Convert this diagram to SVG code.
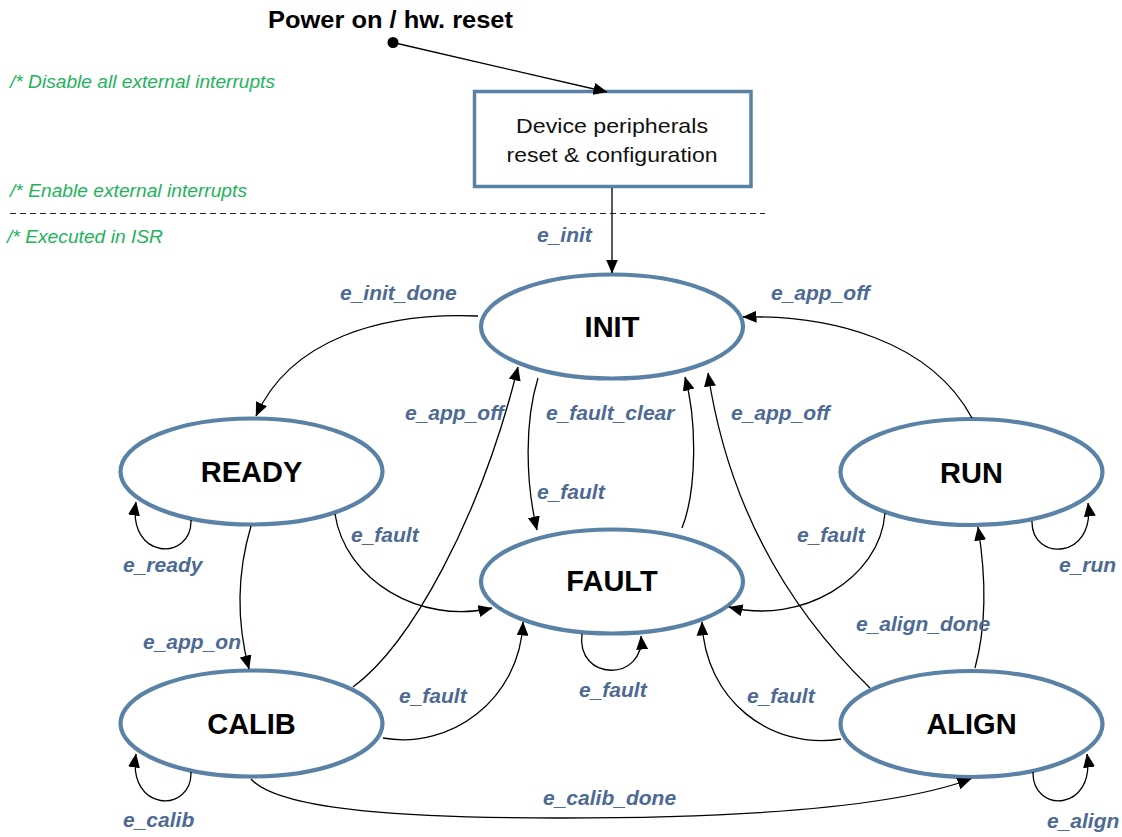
<svg xmlns="http://www.w3.org/2000/svg" width="1122" height="837" viewBox="0 0 1122 837">
  <defs>
    <marker id="arrow" viewBox="0 0 14 12" refX="13.5" refY="6" markerWidth="14" markerHeight="12" markerUnits="userSpaceOnUse" orient="auto">
      <path d="M0,0 L14,6 L0,12 z" fill="#000"/>
    </marker>
    <style>
      .state { fill: #fff; stroke: #5a82a6; stroke-width: 4.2; }
      .box { fill: #fff; stroke: #5a82a6; stroke-width: 3.5; }
      .state-name { font-family: "Liberation Sans", Arial, sans-serif; font-weight: bold; font-size: 29px; fill: #000; text-anchor: middle; }
      .box-text { font-family: "Liberation Sans", Arial, sans-serif; font-size: 21px; fill: #111; text-anchor: middle; }
      .title { font-family: "Liberation Sans", Arial, sans-serif; font-weight: bold; font-size: 23px; fill: #000; }
      .note { font-family: "Liberation Sans", Arial, sans-serif; font-style: italic; font-size: 18px; fill: #22b35a; }
      .evt { font-family: "Liberation Sans", Arial, sans-serif; font-style: italic; font-weight: bold; font-size: 21px; fill: #4d6a94; }
      .edge { fill: none; stroke: #000; stroke-width: 1.3; }
      .arr { marker-end: url(#arrow); }
    </style>
  </defs>

  <rect width="1122" height="837" fill="#fff"/>

  <!-- comments and section divider -->
  <g id="notes">
    <text class="note" x="10" y="88" textLength="265" lengthAdjust="spacingAndGlyphs">/* Disable all external interrupts</text>
    <text class="note" x="10" y="197" textLength="237" lengthAdjust="spacingAndGlyphs">/* Enable external interrupts</text>
    <text class="note" x="7" y="243" textLength="156" lengthAdjust="spacingAndGlyphs">/* Executed in ISR</text>
    <line x1="10" y1="213.5" x2="765" y2="213.5" stroke="#222" stroke-width="1" stroke-dasharray="6 4"/>
  </g>

  <!-- entry point -->
  <g id="power-on">
    <text class="title" x="268" y="28" textLength="245" lengthAdjust="spacingAndGlyphs">Power on / hw. reset</text>
    <circle cx="393" cy="42.5" r="5.5" fill="#000"/>
  </g>

  <g id="reset-config">
    <rect class="box" x="474.5" y="91.5" width="276.5" height="95"/>
    <text class="box-text" x="612" y="133" textLength="192" lengthAdjust="spacingAndGlyphs">Device peripherals</text>
    <text class="box-text" x="612" y="162" textLength="211" lengthAdjust="spacingAndGlyphs">reset &amp; configuration</text>
  </g>

  <!-- states -->
  <g id="INIT">
    <ellipse class="state" cx="612" cy="326.5" rx="131" ry="52"/>
    <text class="state-name" x="612" y="337">INIT</text>
  </g>
  <g id="READY">
    <ellipse class="state" cx="251.5" cy="471.5" rx="131" ry="53"/>
    <text class="state-name" x="251.5" y="482">READY</text>
  </g>
  <g id="RUN">
    <ellipse class="state" cx="971.5" cy="472" rx="131" ry="53"/>
    <text class="state-name" x="971.5" y="482.5">RUN</text>
  </g>
  <g id="FAULT">
    <ellipse class="state" cx="612" cy="581.5" rx="131" ry="52"/>
    <text class="state-name" x="612" y="591">FAULT</text>
  </g>
  <g id="CALIB">
    <ellipse class="state" cx="251.5" cy="723.5" rx="131" ry="53"/>
    <text class="state-name" x="251.5" y="734">CALIB</text>
  </g>
  <g id="ALIGN">
    <ellipse class="state" cx="971.5" cy="724" rx="131" ry="53"/>
    <text class="state-name" x="971.5" y="734">ALIGN</text>
  </g>

  <!-- transitions -->
  <g id="connectors">
    <path class="edge arr" d="M393,42.5 L607,92"/>
    <path class="edge arr" d="M612,188 L612,273"/>
    <!-- INIT -> READY -->
    <path class="edge arr" d="M478,316 C380,312 290,340 256,416"/>
    <!-- READY self -->
    <path class="edge arr" d="M191,520 C192,562 127,560 136,502"/>
    <!-- READY -> CALIB -->
    <path class="edge arr" d="M251,526 C238,570 236,620 249,669"/>
    <!-- CALIB self -->
    <path class="edge arr" d="M191,772 C192,814 127,812 136,754"/>
    <!-- CALIB -> INIT -->
    <path class="edge arr" d="M353,687 C410,645 480,520 518,367"/>
    <!-- READY -> FAULT -->
    <path class="edge arr" d="M335,514 C345,580 420,625 492,608"/>
    <!-- CALIB -> FAULT -->
    <path class="edge arr" d="M383,738 C450,750 520,700 523,622"/>
    <!-- INIT -> FAULT -->
    <path class="edge arr" d="M538,378 C525,420 525,480 537,530"/>
    <!-- FAULT -> INIT -->
    <path class="edge arr" d="M682,528 C697,490 697,420 685,377"/>
    <!-- ALIGN -> INIT -->
    <path class="edge arr" d="M870,688 C800,620 730,520 708,373"/>
    <!-- RUN -> INIT -->
    <path class="edge arr" d="M972,418 C930,340 830,315 743,317"/>
    <!-- RUN -> FAULT -->
    <path class="edge arr" d="M885,513 C880,580 800,625 729,607"/>
    <!-- ALIGN -> FAULT -->
    <path class="edge arr" d="M841,739 C770,750 705,700 702,622"/>
    <!-- ALIGN -> RUN -->
    <path class="edge arr" d="M975,668 C988,620 985,570 978,527"/>
    <!-- RUN self -->
    <path class="edge arr" d="M1032,521 C1031,562 1096,560 1088,503"/>
    <!-- ALIGN self -->
    <path class="edge arr" d="M1033,772 C1032,814 1096,812 1087,754"/>
    <!-- FAULT self -->
    <path class="edge arr" d="M582,634 C576,682 645,682 641,636"/>
    <!-- CALIB -> ALIGN -->
    <path class="edge arr" d="M251,779 C280,812 420,818 560,818 C760,818 900,805 971,779"/>
  </g>

  <!-- event labels -->
  <g id="labels">
    <text class="evt" x="537" y="242">e_init</text>
    <text class="evt" x="340" y="300">e_init_done</text>
    <text class="evt" x="771" y="300">e_app_off</text>
    <text class="evt" x="405" y="420">e_app_off</text>
    <text class="evt" x="546" y="420">e_fault_clear</text>
    <text class="evt" x="731" y="420">e_app_off</text>
    <text class="evt" x="537" y="499">e_fault</text>
    <text class="evt" x="351" y="542">e_fault</text>
    <text class="evt" x="797" y="542">e_fault</text>
    <text class="evt" x="123" y="572">e_ready</text>
    <text class="evt" x="1059" y="572">e_run</text>
    <text class="evt" x="856" y="631">e_align_done</text>
    <text class="evt" x="143" y="649">e_app_on</text>
    <text class="evt" x="579" y="697">e_fault</text>
    <text class="evt" x="399" y="703">e_fault</text>
    <text class="evt" x="747" y="703">e_fault</text>
    <text class="evt" x="543" y="805">e_calib_done</text>
    <text class="evt" x="123" y="827">e_calib</text>
    <text class="evt" x="1047" y="828">e_align</text>
  </g>
</svg>
